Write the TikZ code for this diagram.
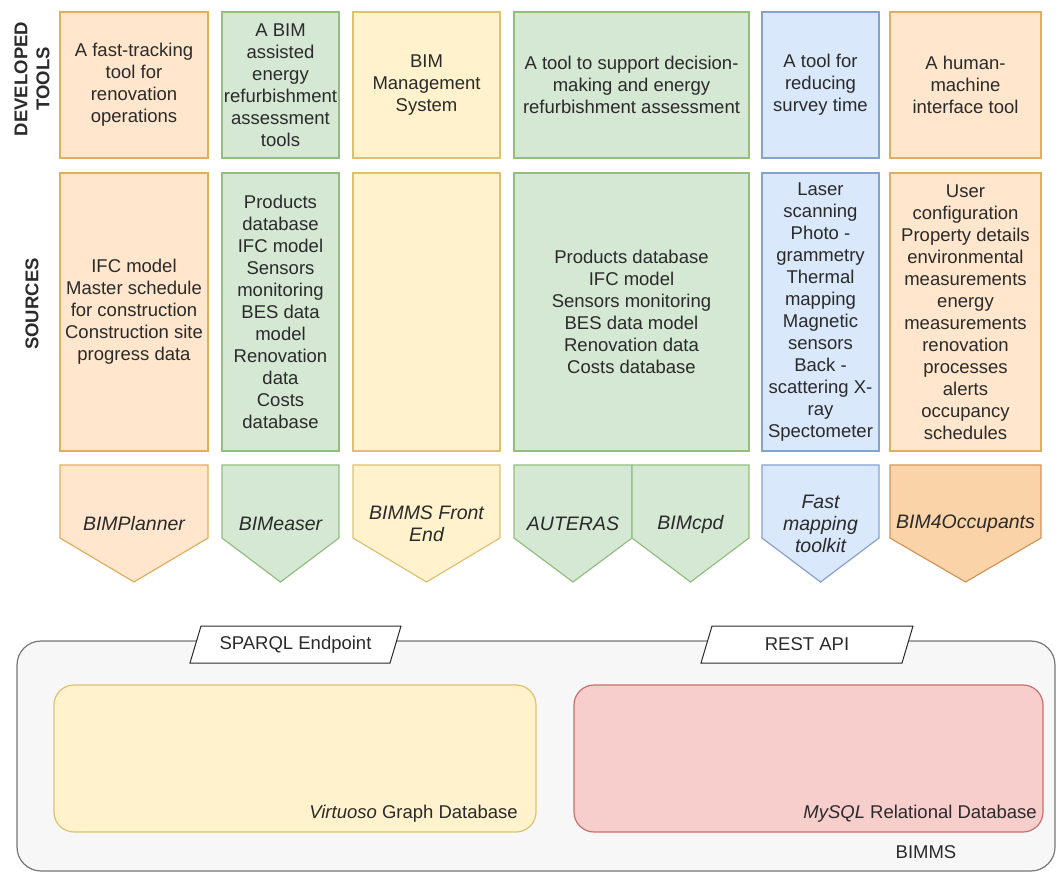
\documentclass[tikz,border=0pt]{standalone}
\usepackage{fontspec}
\setmainfont{Liberation Sans}
\definecolor{orF}{HTML}{FFE6CC}\definecolor{orD}{HTML}{E0AE5C}
\definecolor{grF}{HTML}{D5E8D4}\definecolor{grD}{HTML}{93BE7F}
\definecolor{yeF}{HTML}{FFF2CC}\definecolor{yeD}{HTML}{DDC170}
\definecolor{blF}{HTML}{DAE8FC}\definecolor{blD}{HTML}{86A2CC}
\definecolor{rdF}{HTML}{F8CECC}\definecolor{rdD}{HTML}{C9706C}
\definecolor{gyF}{HTML}{F7F7F7}\definecolor{gyD}{HTML}{777777}
\definecolor{o2F}{HTML}{FAD3A8}\definecolor{o2D}{HTML}{D5955A}
\definecolor{txt}{HTML}{2A2A2A}
\newcommand{\fs}{\fontsize{18.5}{22}\selectfont}
\newcommand{\fsi}{\fontsize{19.5}{22}\selectfont\itshape}
\tikzset{
  box/.style={draw, line width=1.2pt, inner sep=0pt, align=center, font=\fs, text=txt},
  lbl/.style={inner sep=0pt, align=center, font=\fs, text=txt},
  ilbl/.style={inner sep=0pt, align=center, font=\fsi, text=txt},
  pent/.style={line width=1.2pt},
  cor/.style={fill=orF, draw=orD},
  cgr/.style={fill=grF, draw=grD},
  cye/.style={fill=yeF, draw=yeD},
  cbl/.style={fill=blF, draw=blD},
  co2/.style={fill=o2F, draw=o2D},
  para/.style={fill=white, draw=txt, line width=1pt},
}
\begin{document}
\begin{tikzpicture}[x=1pt,y=-1pt]
\useasboundingbox (0,0) rectangle (1058,873);
% side labels
\node[lbl, font=\fs\bfseries, rotate=90] (devlbl) at (32,79) {DEVELOPED\\TOOLS};
\node[lbl, font=\fs\bfseries, rotate=90] (srclbl) at (32,304) {SOURCES};
% row 1: developed tools
\node[box, cor, minimum width=148pt, minimum height=146pt] (t1) at (134,85) {A fast-tracking\\tool for\\renovation\\operations};
\node[box, cgr, minimum width=117pt, minimum height=146pt] (t2) at (280.5,85) {A BIM\\assisted\\energy\\refurbishment\\assessment\\tools};
\node[box, cye, minimum width=147pt, minimum height=146pt] (t3) at (426.5,85) {BIM\\Management\\System};
\node[box, cgr, minimum width=235pt, minimum height=146pt] (t4) at (631.5,85) {A tool to support decision-\\making and energy\\refurbishment assessment};
\node[box, cbl, minimum width=117pt, minimum height=146pt] (t5) at (820.5,85) {A tool for\\reducing\\survey time};
\node[box, cor, minimum width=151pt, minimum height=146pt] (t6) at (965.5,85) {A human-\\machine\\interface tool};
% row 2: sources
\node[box, cor, minimum width=148pt, minimum height=278pt] (s1) at (134,312) {IFC model\\Master schedule\\for construction\\Construction site\\progress data};
\node[box, cgr, minimum width=117pt, minimum height=278pt] (s2) at (280.5,312) {Products\\database\\IFC model\\Sensors\\monitoring\\BES data\\model\\Renovation\\data\\Costs\\database};
\node[box, cye, minimum width=147pt, minimum height=278pt] (s3) at (426.5,312) {};
\node[box, cgr, minimum width=235pt, minimum height=278pt] (s4) at (631.5,312) {Products database\\IFC model\\Sensors monitoring\\BES data model\\Renovation data\\Costs database};
\node[box, cbl, minimum width=117pt, minimum height=278pt] (s5) at (820.5,312) {Laser\\scanning\\Photo -\\grammetry\\Thermal\\mapping\\Magnetic\\sensors\\Back -\\scattering X-\\ray\\Spectometer};
\node[box, cor, minimum width=151pt, minimum height=278pt] (s6) at (965.5,312) {User\\configuration\\Property details\\environmental\\measurements\\energy\\measurements\\renovation\\processes\\alerts\\occupancy\\schedules};
% row 3: tools (pentagons)
\filldraw[pent, cor] (60,465) -- (208,465) -- (208,538) -- (134,582) -- (60,538) -- cycle;
\node[ilbl] (p1) at (134,524) {BIMPlanner};
\filldraw[pent, cgr] (222,465) -- (339,465) -- (339,538) -- (280.5,582) -- (222,538) -- cycle;
\node[ilbl] (p2) at (280.5,524) {BIMeaser};
\filldraw[pent, cye] (353,465) -- (500,465) -- (500,538) -- (426.5,582) -- (353,538) -- cycle;
\node[ilbl] (p3) at (426.5,524) {BIMMS Front\\End};
\filldraw[pent, cgr] (514,465) -- (632,465) -- (632,538) -- (573,582) -- (514,538) -- cycle;
\node[ilbl] (p4) at (573,524) {AUTERAS};
\filldraw[pent, cgr] (632,465) -- (749,465) -- (749,538) -- (690.5,582) -- (632,538) -- cycle;
\node[ilbl] (p5) at (690.5,524) {BIMcpd};
\filldraw[pent, cbl] (762,465) -- (879,465) -- (879,538) -- (820.5,582) -- (762,538) -- cycle;
\node[ilbl] (p6) at (820.5,524) {Fast\\mapping\\toolkit};
\filldraw[pent, co2] (890,465) -- (1041,465) -- (1041,538) -- (965.5,582) -- (890,538) -- cycle;
\node[ilbl] (p7) at (965.5,524) {BIM4Occupants};
% BIMMS container
\node[draw=gyD, fill=gyF, line width=1.2pt, rounded corners=24pt, minimum width=1038pt, minimum height=230pt, inner sep=0pt] (bimms) at (536,756) {};
\node[box, cye, rounded corners=20pt, minimum width=482pt, minimum height=147pt] (virt) at (295,758.5) {};
\node[box, fill=rdF, draw=rdD, rounded corners=20pt, minimum width=469pt, minimum height=147pt] (mysql) at (808.5,758.5) {};
\node[lbl, anchor=base east] (virtlbl) at (518,818.5) {\textit{Virtuoso} Graph Database};
\node[lbl, anchor=base east] (mysqllbl) at (1037,818.5) {\textit{MySQL} Relational Database};
\node[lbl] (bimmslbl) at (926,852) {BIMMS};
% interfaces
\filldraw[para] (201,626) -- (401,626) -- (390,663) -- (190,663) -- cycle;
\node[lbl] (sparql) at (295.5,644.5) {SPARQL Endpoint};
\filldraw[para] (712,626) -- (913,626) -- (902,663) -- (701,663) -- cycle;
\node[lbl] (rest) at (807,644.5) {REST API};
\end{tikzpicture}
\end{document}
